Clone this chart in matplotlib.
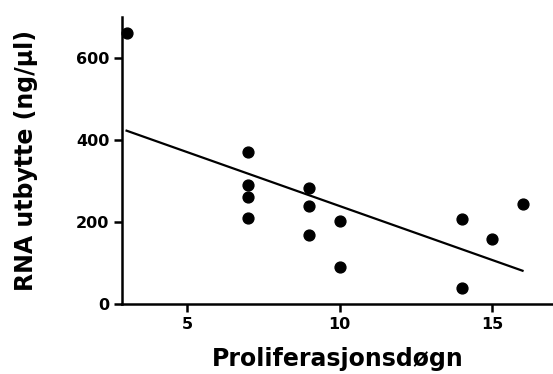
import numpy as np
import matplotlib
matplotlib.use("Agg")
import matplotlib.pyplot as plt

# Proliferasjonsdøgn vs RNA utbytte
days = [3, 7, 7, 7, 7, 9, 9, 9, 10, 10, 14, 14, 15, 16]
rna_yield = [660, 371, 290, 261, 210, 284, 239, 168, 203, 91, 207, 38, 158, 244]

x_ticks = [5, 10, 15]
y_ticks = [0, 200, 400, 600]

fig = plt.figure(figsize=(5.53, 3.74), dpi=100)
ax = fig.add_axes([0.2206, 0.187, 0.7794, 0.7674])

ax.plot(days, rna_yield, 'o', color='black', markersize=7.8, clip_on=False, zorder=3)

# lineær regresjon
slope, intercept = np.polyfit(days, rna_yield, 1)
xs = np.array([min(days), max(days)])
ax.plot(xs, slope * xs + intercept, color='black', linewidth=1.6)

ax.set_xlim(2.85, 17.0)
ax.set_ylim(0, 700)
ax.set_xticks(x_ticks)
ax.set_yticks(y_ticks)

for side in ['top', 'right']:
    ax.spines[side].set_visible(False)
for side in ['left', 'bottom']:
    ax.spines[side].set_linewidth(1.8)

ax.tick_params(width=1.8, length=6, direction='out', pad=3)
for lbl in ax.get_xticklabels() + ax.get_yticklabels():
    lbl.set_fontfamily('DejaVu Sans')
    lbl.set_fontweight('bold')
    lbl.set_fontsize(11.5)

ax.set_xlabel('Proliferasjonsdøgn', fontsize=17, fontweight='bold', family='DejaVu Sans', labelpad=11)
ax.set_ylabel('RNA utbytte (ng/µl)', fontsize=17, fontweight='bold', family='DejaVu Sans', labelpad=27.5)

fig.savefig('out.png', dpi=100)
